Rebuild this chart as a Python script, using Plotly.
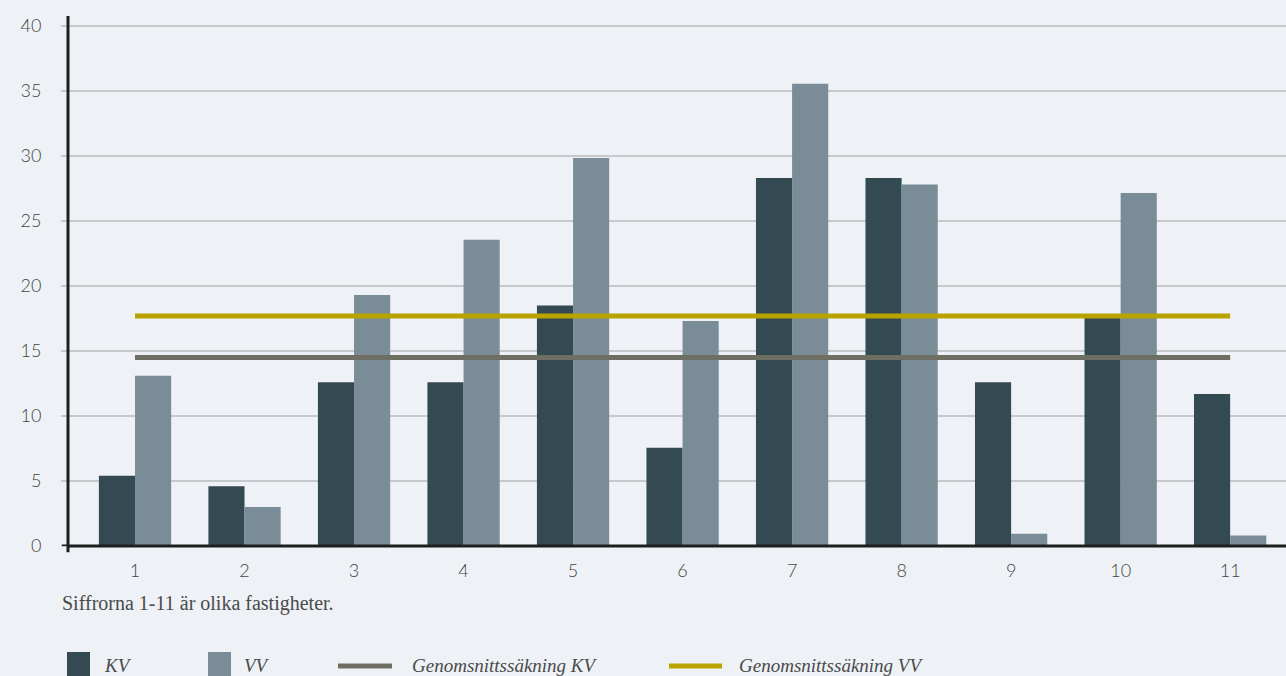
import plotly.graph_objects as go

categories = [1, 2, 3, 4, 5, 6, 7, 8, 9, 10, 11]
kv_values = [5.4, 4.6, 12.6, 12.6, 18.5, 7.55, 28.3, 28.3, 12.6, 17.8, 11.7]
vv_values = [13.1, 3.0, 19.3, 23.55, 29.85, 17.3, 35.55, 27.8, 0.95, 27.15, 0.8]
avg_kv = 14.5
avg_vv = 17.7
y_ticks = [0, 5, 10, 15, 20, 25, 30, 35, 40]

C_KV = "#344a53"
C_VV = "#7a8c97"
C_AKV = "#6e6e62"
C_AVV = "#b8a300"
BG = "#eef2f6"
TXT = "#444444"

fig = go.Figure()
fig.add_trace(go.Bar(x=categories, y=kv_values, name="KV", marker_color=C_KV,
                     marker_line_width=0, showlegend=False))
fig.add_trace(go.Bar(x=categories, y=vv_values, name="VV", marker_color=C_VV,
                     marker_line_width=0, showlegend=False))
fig.add_trace(go.Scatter(x=[categories[0], categories[-1]], y=[avg_kv, avg_kv],
                         mode="lines", line=dict(color=C_AKV, width=5),
                         name="Genomsnittssäkning KV", showlegend=False))
fig.add_trace(go.Scatter(x=[categories[0], categories[-1]], y=[avg_vv, avg_vv],
                         mode="lines", line=dict(color=C_AVV, width=5),
                         name="Genomsnittssäkning VV", showlegend=False))

tickfont = dict(family="Lato, sans-serif", size=18, color=TXT, weight=300)

fig.update_layout(
    width=1286, height=676,
    margin=dict(l=68, r=0, t=16, b=130),
    paper_bgcolor=BG, plot_bgcolor=BG,
    barmode="group", bargap=0.34, bargroupgap=0,
    font=dict(family="Lato, sans-serif", color=TXT, size=16),
)
fig.update_xaxes(range=[0.388, 11.51], tickvals=categories,
                 ticktext=[str(c) for c in categories],
                 showgrid=False, zeroline=False, showline=False,
                 ticks="", ticklabelstandoff=12, tickfont=tickfont)
fig.update_yaxes(range=[0, 40.77], tickvals=y_ticks,
                 showgrid=True, gridcolor="#c6c9cc", gridwidth=1.5,
                 zeroline=False, showline=False,
                 ticks="outside", ticklen=6, tickcolor="#c6c9cc", tickwidth=1.5,
                 ticklabelstandoff=16, tickfont=tickfont)

# axis lines
fig.add_shape(type="line", xref="paper", yref="paper", x0=0, x1=1, y0=0, y1=0,
              line=dict(color="#1e1e1e", width=3), layer="above")
fig.add_shape(type="line", xref="x domain", yref="y", x0=-0.005, x1=0, y0=0, y1=0,
              line=dict(color="#1e1e1e", width=3), layer="above")
fig.add_shape(type="line", xref="paper", yref="paper", x0=0, x1=0, y0=-0.012, y1=1,
              line=dict(color="#1e1e1e", width=3), layer="above")

H = 676 - 16 - 130
def py(pix_y):
    return (676 - 130 - pix_y) / H
def px(pix_x):
    return (pix_x - 68) / 1218

# caption
fig.add_annotation(text="Siffrorna 1-11 är olika fastigheter.", xref="paper", yref="paper",
                   x=px(60), y=py(603), xanchor="left", yanchor="middle", showarrow=False,
                   font=dict(family="Liberation Serif, serif", size=20, color="#4a4a4a"))

# custom legend
fig.add_shape(type="rect", xref="paper", yref="paper", x0=px(67), x1=px(90),
              y0=py(676), y1=py(652), fillcolor=C_KV, line_width=0)
fig.add_shape(type="rect", xref="paper", yref="paper", x0=px(208), x1=px(231),
              y0=py(676), y1=py(652), fillcolor=C_VV, line_width=0)
fig.add_shape(type="line", xref="paper", yref="paper", x0=px(338), x1=px(392),
              y0=py(666), y1=py(666), line=dict(color=C_AKV, width=5))
fig.add_shape(type="line", xref="paper", yref="paper", x0=px(669), x1=px(722),
              y0=py(666), y1=py(666), line=dict(color=C_AVV, width=5))
for tx, x in [("KV", 102), ("VV", 242), ("Genomsnittssäkning KV", 410),
              ("Genomsnittssäkning VV", 737)]:
    fig.add_annotation(text=f"<i>{tx}</i>", xref="paper", yref="paper",
                       x=px(x), y=py(665), xanchor="left", yanchor="middle",
                       showarrow=False,
                       font=dict(family="Liberation Serif, serif", size=19, color="#4a4a4a"))

fig.write_html("out.html", config={"displayModeBar": False},
               post_script="document.body.style.margin='0';document.body.style.overflow='hidden';")
